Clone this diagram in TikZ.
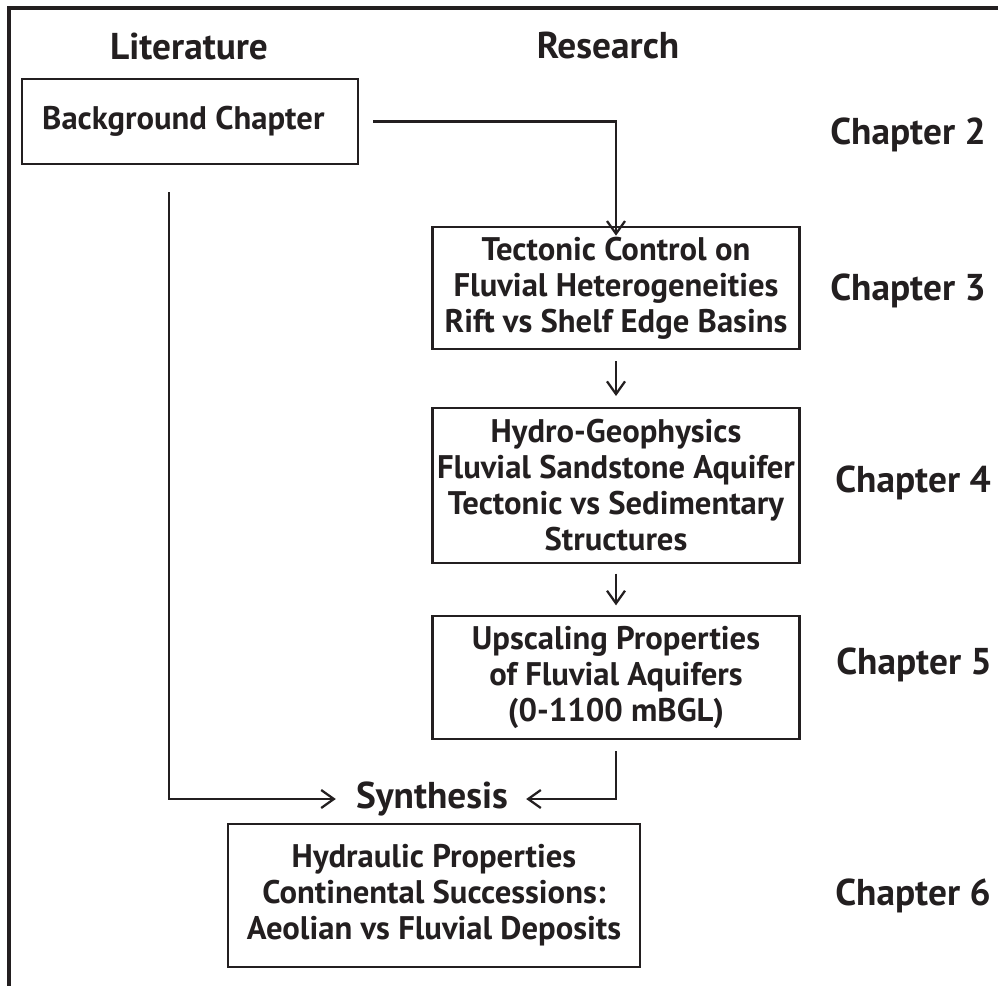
\documentclass[tikz,border=0pt]{standalone}
\usepackage{fontspec}
\setmainfont{PT Sans}
\usetikzlibrary{arrows.meta}
\definecolor{ink}{RGB}{35,31,32}
\begin{document}
\begin{tikzpicture}[x=0.75pt,y=-0.75pt,
  every node/.style={font=\bfseries\fontsize{24.5}{27}\selectfont, text=ink},
  box/.style={draw=ink, line width=2pt, align=center, inner sep=0pt},
  arr/.style={draw=ink, line width=1.7pt, -{Straight Barb[length=9.5pt,width=13.5pt]}},
  lab/.style={inner sep=0pt, font=\bfseries\fontsize{28}{30}\selectfont}
]
\useasboundingbox (0,0) rectangle (998,985);
% frame
\draw[ink, line width=2.3pt] (9,990) -- (9,8) -- (1003,8);
% headings
\node[lab] (lit) at (189,46) {Literature};
\node[lab] (res) at (608,46) {Research};
% boxes
\node[box, minimum width=336*0.75pt, minimum height=85*0.75pt] (bg) at (190,121.5) {Background Chapter\hspace*{10pt}};
\node[box, minimum width=367*0.75pt, minimum height=122*0.75pt] (tect) at (616,288)
  {Tectonic Control on\\Fluvial Heterogeneities\\Rift vs Shelf Edge Basins};
\node[box, minimum width=367*0.75pt, minimum height=155*0.75pt] (hydro) at (616,485.5)
  {Hydro-Geophysics\\Fluvial Sandstone Aquifer\\Tectonic vs Sedimentary\\Structures};
\node[box, minimum width=367*0.75pt, minimum height=123*0.75pt] (up) at (616,677.5)
  {Upscaling Properties\\of Fluvial Aquifers\\(0-1100 mBGL)};
\node[lab] (syn) at (432,799) {Synthesis};
\node[box, minimum width=412*0.75pt, minimum height=143*0.75pt] (hp) at (434,895.5)
  {Hydraulic Properties\\Continental Successions:\\Aeolian vs Fluvial Deposits};
% chapter labels
\node[lab] (c2) at (908,135) {Chapter 2};
\node[lab] (c3) at (908,291) {Chapter 3};
\node[lab] (c4) at (913,483) {Chapter 4};
\node[lab] (c5) at (914,665) {Chapter 5};
\node[lab] (c6) at (913,896) {Chapter 6};
% connectors
\coordinate (lstart) at (169,192);
\draw[arr, shorten <=10.5pt] (bg.east) -| ([yshift=-7.5pt]tect.north);
\draw[arr, shorten <=8pt, shorten >=8pt] (tect.south) -- (hydro.north);
\draw[arr, shorten <=7pt, shorten >=7pt] (hydro.south) -- (up.north);
\draw[arr] (lstart) |- ([xshift=-15pt]syn.west);
\draw[arr, shorten <=8pt] (up.south) |- ([xshift=13.5pt]syn.east);
\end{tikzpicture}
\end{document}
